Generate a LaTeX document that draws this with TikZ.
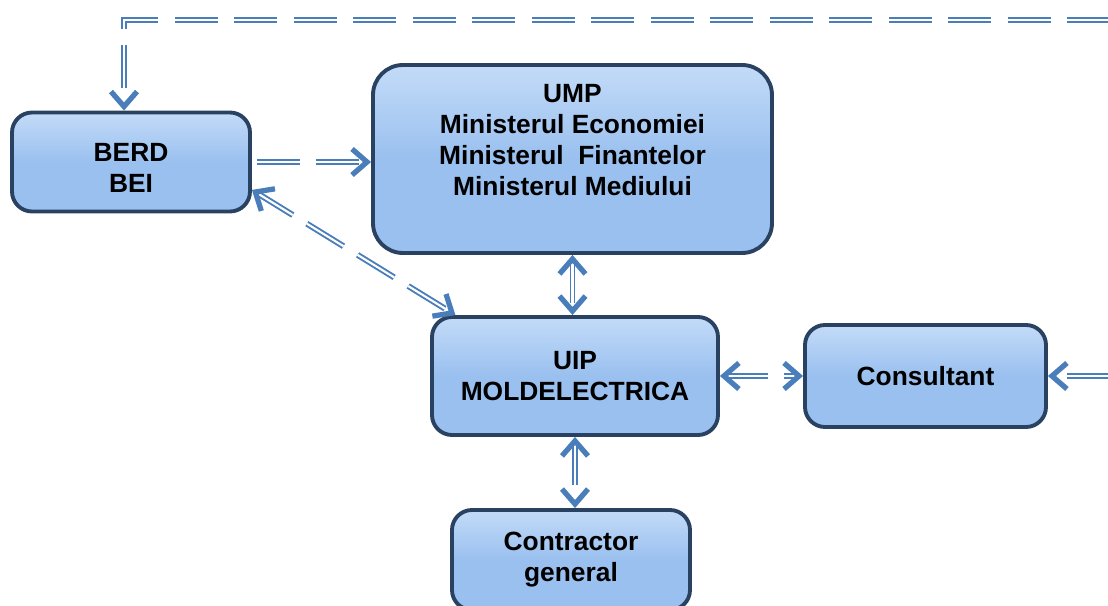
\documentclass[tikz,border=0pt]{standalone}
\usepackage{fontspec}
\setmainfont{Liberation Sans}
\usetikzlibrary{arrows.meta}

\definecolor{boxfill}{HTML}{9AC0EF}
\definecolor{boxtop}{HTML}{C3DBF8}
\definecolor{boxedge}{HTML}{2A4262}
\definecolor{linkblue}{HTML}{4A7EBB}

\tikzset{
	box/.style={draw=boxedge, line width=2.2pt, rounded corners=0.4cm, top color=boxtop, bottom color=boxfill, middle color=boxfill, align=center, inner sep=0pt, font=\bfseries\fontsize{15}{17.6}\selectfont},
	link/.style={draw=linkblue, line width=1.1pt, double=white, double distance=1.2pt, dash pattern=on 0.86cm off 0.33cm, shorten <=0.1cm, shorten >=0.1cm},
	barb/.tip={Straight Barb[length=0.3cm, width=0.52cm, line width=3pt]}
}

% double line first, then the tips alone on top of it
\newcommand{\linkpath}[2]{\draw[link] #2; \path[tips, color=linkblue, #1] #2;}

\begin{document}
\begin{tikzpicture}

	\clip (0,0) rectangle (22.16,12.12);

	\node[box, minimum width=4.76cm, minimum height=1.98cm] (berd) at (2.62,8.88) {\mbox{}\\BERD\\BEI};
	\node[box, minimum width=7.98cm, minimum height=3.76cm, rounded corners=0.6cm] (ump) at (11.45,8.94) {UMP\\Ministerul Economiei\\Ministerul\ \ Finantelor\\Ministerul Mediului\\[0.14cm]};
	\node[box, minimum width=5.72cm, minimum height=2.36cm] (uip) at (11.5,4.6) {UIP\\MOLDELECTRICA};
	\node[box, minimum width=4.82cm, minimum height=2.04cm] (cons) at (18.51,4.6) {Consultant};
	\node[box, minimum width=4.76cm, minimum height=2.0cm] (contr) at (11.42,0.92) {Contractor\\general};

	\coordinate (topL) at (2.48,11.72);
	\coordinate (topR) at (22.3,11.72);
	\coordinate (consR) at (22.3,4.6);

	\linkpath{-barb}{(topR) -- (topL) -- (topL |- berd.north)}
	\linkpath{-barb}{(berd.east) -- (berd.east -| ump.west)}
	\linkpath{barb-barb}{(berd.-13) -- (uip.153)}
	\linkpath{barb-barb}{(ump.south) -- (ump.south |- uip.north)}
	\linkpath{barb-barb}{(uip.east) -- (cons.west)}
	\linkpath{-barb}{(consR) -- (cons.east)}
	\linkpath{barb-barb}{(uip.south) -- (uip.south |- contr.north)}

\end{tikzpicture}
\end{document}
